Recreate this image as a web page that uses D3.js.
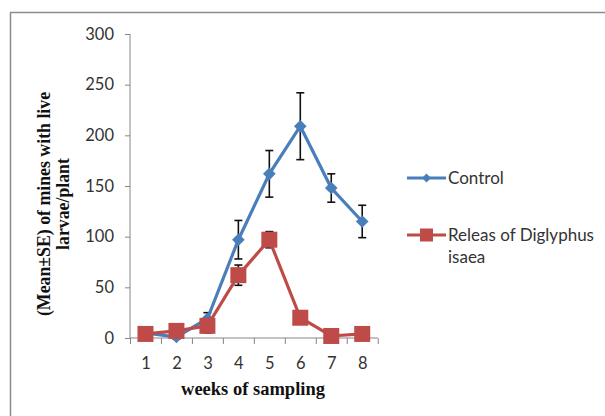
<!DOCTYPE html>
<html lang="en">
<head>
  <meta charset="utf-8">
  <title>Mines with live larvae per plant</title>
  <style>
    body { margin: 0; background: #fff; }
    svg { display: block; }
    .tick text { font-family: Lato, "Open Sans", sans-serif; font-size: 16.5px; fill: #333; }
    .axis path, .axis line { stroke: #868686; }
    .title { font-family: "Liberation Serif", "Times New Roman", serif; font-weight: bold; font-size: 18.5px; fill: #111; }
    .ytitle { font-size: 17.8px; }
    .legend text { font-family: Lato, "Open Sans", sans-serif; font-size: 17px; fill: #333; }
  </style>
  <script src="https://d3js.org/d3.v7.min.js"></script>
</head>
<body>
<script>
  // data
  let weeks = [1, 2, 3, 4, 5, 6, 7, 8]
  let control = [5, 1, 19, 97, 162, 209, 148, 115]
  let controlSE = [2, 2, 6, 19, 23, 33, 14, 16]
  let release = [4, 7, 12, 62, 97, 20, 2, 4]
  let releaseSE = [1, 1, 7, 10, 8, 2, 1, 1]
  let yTicks = [0, 50, 100, 150, 200, 250, 300]
  let seriesNames = ["Control", "Releas of Diglyphus isaea"]

  let width = 605
  let height = 416
  let plotLeft = 130, plotRight = 377.7, plotTop = 34, plotBottom = 338
  let blue = "#4a7ebb"
  let red = "#be4b48"

  let svg = d3.select("body").append("svg")
              .attr("width", width)
              .attr("height", height)

  // outer frame
  svg.append("rect")
     .attr("x", 10.5).attr("y", 12.5)
     .attr("width", 620).attr("height", 420)
     .attr("fill", "none")
     .attr("stroke", "#8c8c8c")
     .attr("stroke-width", 1.5)

  let xScale = d3.scaleLinear().domain([0.5, 8.5]).range([plotLeft, plotRight])
  let yScale = d3.scaleLinear().domain([0, 300]).range([plotBottom, plotTop])

  // y axis
  let yAxis = d3.axisLeft(yScale).tickValues(yTicks).tickSize(5).tickPadding(11)
  let gy = svg.append("g").attr("class", "axis")
              .attr("transform", `translate(${plotLeft},0)`)
              .call(yAxis)
  gy.select(".domain").attr("d", `M0,${plotTop}V${plotBottom}`)

  // x axis: tick marks between categories, labels at centers
  let xBounds = d3.range(0.5, 9, 1)
  let xAxis = d3.axisBottom(xScale).tickValues(xBounds).tickSize(6).tickFormat("")
  let gx = svg.append("g").attr("class", "axis")
              .attr("transform", `translate(0,${plotBottom})`)
              .call(xAxis)
  gx.select(".domain").attr("d", `M${plotLeft},0H${plotRight}`)
  let xLabels = d3.axisBottom(xScale).tickValues(weeks).tickSize(0).tickPadding(19)
  let gxl = svg.append("g").attr("class", "axis")
               .attr("transform", `translate(0,${plotBottom})`)
               .call(xLabels)
  gxl.select(".domain").remove()

  // axis titles
  svg.append("text").attr("class", "title")
     .attr("x", 253).attr("y", 395)
     .attr("text-anchor", "middle")
     .text("weeks of sampling")

  let yTitle = svg.append("text").attr("class", "title ytitle")
                  .attr("text-anchor", "middle")
                  .attr("transform", "translate(50,204) rotate(-90)")
  yTitle.append("tspan").attr("x", 0).attr("y", 0).text("(Mean\u00b1SE) of mines with live")
  yTitle.append("tspan").attr("x", 0).attr("y", 19).text("larvae/plant")

  let line = d3.line().x((d, i) => xScale(weeks[i])).y(d => yScale(d))

  let drawErrors = (vals, se) => {
    let g = svg.append("g")
    weeks.forEach((w, i) => {
      let x = xScale(w)
      let y1 = yScale(vals[i] + se[i]), y2 = yScale(vals[i] - se[i])
      g.append("line").attr("x1", x).attr("x2", x).attr("y1", y1).attr("y2", y2)
       .attr("stroke", "#111").attr("stroke-width", 1.6)
      ;[y1, y2].forEach(y => {
        g.append("line").attr("x1", x - 4).attr("x2", x + 4).attr("y1", y).attr("y2", y)
         .attr("stroke", "#111").attr("stroke-width", 1.6)
      })
    })
  }

  // control series
  drawErrors(control, controlSE)
  svg.append("path").datum(control)
     .attr("d", line).attr("fill", "none")
     .attr("stroke", blue).attr("stroke-width", 3.2)
  svg.append("g").selectAll("path").data(control).join("path")
     .attr("d", d3.symbol().type(d3.symbolSquare).size(80))
     .attr("transform", (d, i) => `translate(${xScale(weeks[i])},${yScale(d)}) rotate(45)`)
     .attr("fill", blue)

  // release series
  drawErrors(release, releaseSE)
  svg.append("path").datum(release)
     .attr("d", line).attr("fill", "none")
     .attr("stroke", red).attr("stroke-width", 3.2)
  svg.append("g").selectAll("rect").data(release).join("rect")
     .attr("x", (d, i) => xScale(weeks[i]) - 8)
     .attr("y", d => yScale(d) - 8)
     .attr("width", 16).attr("height", 16)
     .attr("fill", red)

  // legend
  let legend = svg.append("g").attr("class", "legend")
  let legendY = [178, 235]
  let colors = [blue, red]
  legendY.forEach((y, i) => {
    legend.append("line").attr("x1", 407).attr("x2", 446).attr("y1", y).attr("y2", y)
          .attr("stroke", colors[i]).attr("stroke-width", 3.2)
  })
  legend.append("path").attr("d", d3.symbol().type(d3.symbolSquare).size(40))
        .attr("transform", `translate(426.5,${legendY[0]}) rotate(45)`).attr("fill", blue)
  legend.append("rect").attr("x", 420).attr("y", legendY[1] - 6.5)
        .attr("width", 13).attr("height", 13).attr("fill", red)
  legend.append("text").attr("x", 448).attr("y", legendY[0] + 6).text(seriesNames[0])
  let t2 = legend.append("text").attr("x", 448).attr("y", legendY[1] + 6)
  t2.append("tspan").attr("x", 448).text("Releas of Diglyphus")
  t2.append("tspan").attr("x", 448).attr("dy", 22).text("isaea")
</script>
</body>
</html>
